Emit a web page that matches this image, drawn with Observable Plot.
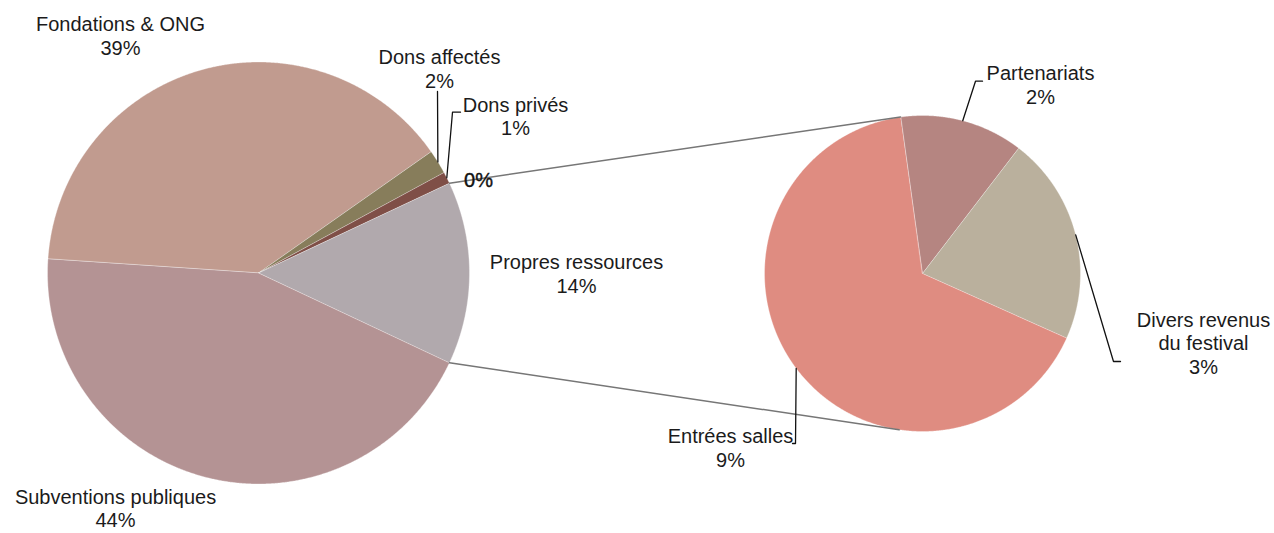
<!DOCTYPE html>
<html><head><meta charset="utf-8">
<script src="https://cdn.jsdelivr.net/npm/d3@7"></script>
<script src="https://cdn.jsdelivr.net/npm/@observablehq/plot@0.6"></script>
<style>html,body{margin:0;padding:0;background:#fff}#chart svg{display:block}</style>
</head><body><div id="chart"></div>
<script>
// ---- data ----
const leftCategories = ["Fondations & ONG", "Dons affectés", "Dons privés", "Autres", "Propres ressources", "Subventions publiques"];
const leftValues = [39.2, 1.85, 0.9, 0, 14.0, 44.05];
const leftColors = ["#c19b8f", "#877d5b", "#7f4f47", "#6f6f6f", "#b1a9ad", "#b49394"];

const rightCategories = ["Partenariats", "Divers revenus\ndu festival", "Entrées salles"];
const rightValues = [1.77, 2.98, 9.25];
const rightColors = ["#b58581", "#bab09d", "#df8c81"];

const splitCategory = "Propres ressources";

// ---- layout ----
const W = 1274, H = 533;
const deg = Math.PI / 180;
const L = {cx: 258, cy: 272.5, r: 211};
const R = {cx: 922, cy: 273, r: 158};
const rightStart = -8 * deg;
const connectorRightAngles = [-8 * deg, 188.5 * deg];
const labelLayout = {
  "Fondations & ONG": {x: 120, y: 35},
  "Dons affectés": {x: 439, y: 68, leader: [[437, 91]]},
  "Dons privés": {x: 515, y: 115.5, leader: [[460, 111.7], [452, 111.7]]},
  "Autres": {x: 478, y: 180},
  "Propres ressources": {x: 576, y: 273},
  "Subventions publiques": {x: 115, y: 507.5},
  "Partenariats": {x: 1040, y: 84, leader: [[982, 80.7], [975, 80.7]]},
  "Divers revenus\ndu festival": {x: 1203, y: 342.5, leader: [[1120, 361], [1113, 361]]},
  "Entrées salles": {x: 730, y: 447, leader: [[792, 443], [795, 443]]}
};

// ---- geometry from data ----
const iSplit = leftCategories.indexOf(splitCategory);
const leftTotal = d3.sum(leftValues);
const before = d3.sum(leftValues.slice(0, iSplit));
const leftStart = Math.PI / 2 - 2 * Math.PI * (before + leftValues[iSplit] / 2) / leftTotal;
const leftArcs = d3.pie().sort(null).startAngle(leftStart).endAngle(leftStart + 2 * Math.PI)(leftValues);
const rightArcs = d3.pie().sort(null).startAngle(rightStart).endAngle(rightStart + 2 * Math.PI)(rightValues);

const pt = (c, a, r = c.r) => ({x: c.cx + r * Math.sin(a), y: c.cy - r * Math.cos(a)});

function polygons(c, arcs, cats) {
  const out = [];
  arcs.forEach((a, i) => {
    const span = a.endAngle - a.startAngle;
    if (span <= 0) return;
    const n = Math.max(2, Math.ceil(span / (0.25 * deg)));
    out.push({...pt(c, 0, 0), name: cats[i]});
    for (let k = 0; k <= n; k++) out.push({...pt(c, a.startAngle + span * k / n), name: cats[i]});
  });
  return out;
}
const slices = [...polygons(L, leftArcs, leftCategories), ...polygons(R, rightArcs, rightCategories)];

// connectors between pies
const sa = leftArcs[iSplit];
const connectors = [
  {...pt(L, sa.startAngle), id: "top"}, {...pt(R, connectorRightAngles[0]), id: "top"},
  {...pt(L, sa.endAngle), id: "bottom"}, {...pt(R, connectorRightAngles[1]), id: "bottom"}
];

// labels and leaders
const labels = [], leaders = [];
function addLabels(c, arcs, cats, values, scaleTotal) {
  arcs.forEach((a, i) => {
    const name = cats[i];
    const lay = labelLayout[name];
    if (!lay) return;
    const pct = Math.round(values[i] / scaleTotal * 100) + "%";
    labels.push({x: lay.x, y: lay.y, text: name === "Autres" ? pct : name + "\n" + pct, zero: name === "Autres"});
    if (lay.leader) {
      lay.leader.forEach(([x, y]) => leaders.push({x, y, name}));
      const mid = (a.startAngle + a.endAngle) / 2;
      leaders.push({...pt(c, mid), name});
    }
  });
}
addLabels(L, leftArcs, leftCategories, leftValues, leftTotal);
addLabels(R, rightArcs, rightCategories, rightValues, leftTotal);

const font = "'Helvetica Neue', Helvetica, 'Liberation Sans', Arial, sans-serif";

const chart = Plot.plot({
  width: W, height: H,
  margin: 0,
  x: {domain: [0, W], range: [0, W], axis: null},
  y: {domain: [0, H], range: [0, H], axis: null},
  color: {domain: [...leftCategories, ...rightCategories], range: [...leftColors, ...rightColors]},
  style: {fontFamily: font, background: "#fff"},
  marks: [
    Plot.line(slices, {x: "x", y: "y", z: "name", fill: "name", stroke: "#ffffff", strokeOpacity: 0.55, strokeWidth: 0.6, curve: "linear-closed"}),
    Plot.line(connectors, {x: "x", y: "y", z: "id", stroke: "#767676", strokeWidth: 1.5}),
    Plot.line(leaders, {x: "x", y: "y", z: "name", stroke: "#111", strokeWidth: 1.3}),
    Plot.text(labels.filter(d => !d.zero), {x: "x", y: "y", text: "text", fontSize: 20, lineHeight: 1.165, fill: "#1b1b1b", fontFamily: font}),
    Plot.text(labels.filter(d => d.zero), {x: "x", y: "y", text: "text", fontSize: 20, fill: "#111", stroke: "#111", strokeWidth: 0.4, fontFamily: font})
  ]
});
document.getElementById("chart").appendChild(chart);
</script>
</body></html>
